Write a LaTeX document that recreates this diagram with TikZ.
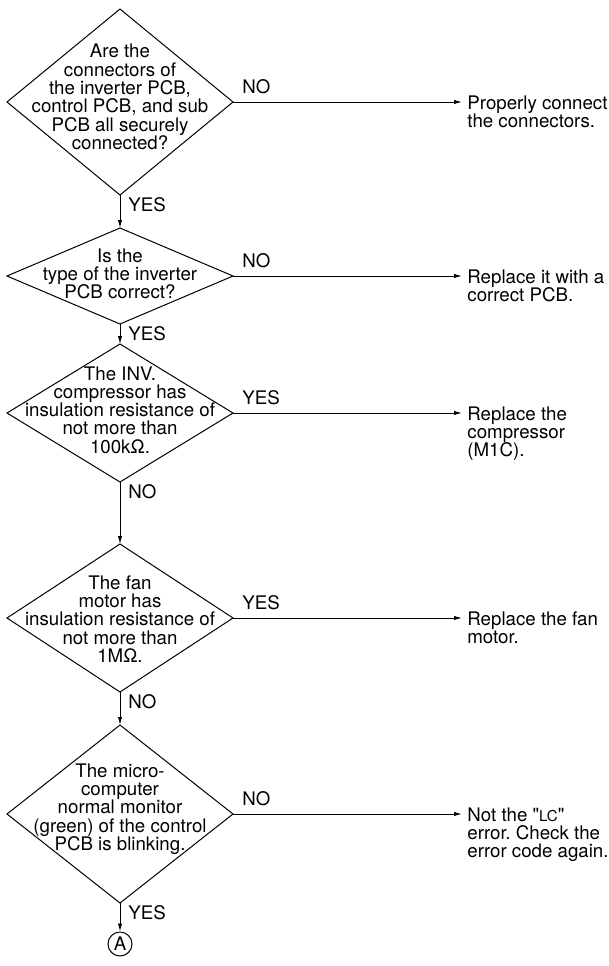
\documentclass[tikz,border=0pt]{standalone}
\usepackage{fontspec}
\setmainfont{TeX Gyre Heros}
\frenchspacing
\usetikzlibrary{positioning, shapes.geometric, arrows.meta}
\tikzset{
	decision/.style={diamond, draw, line width=0.5pt, minimum width=113pt, inner sep=0pt, outer sep=0pt}
}
\tikzset{
	flowtext/.style={font=\fontsize{9.35}{9.15}\selectfont, inner sep=0pt, align=center}
}
\tikzset{
	actiontext/.style={font=\fontsize{9.35}{9.15}\selectfont, inner xsep=2.5pt, inner ysep=0pt, align=left, anchor=north west}
}
\tikzset{
	flowarrow/.style={line width=0.5pt, -{Latex[length=4pt,width=2.2pt]}}
}
\newcommand{\errLC}{\textquotedbl{\fontsize{7.5}{7.5}\selectfont LC}\textquotedbl}

\begin{document}
\begin{tikzpicture}[x=0.5pt, y=-0.5pt]
      \useasboundingbox (0,0) rectangle (609,966);
      % decision boxes
      \foreach \n/\y/\h in {1/102/93pt, 2/276/48pt, 3/413/69pt, 4/618/74pt, 5/814/89pt}
        \node[decision, minimum height=\h] (d\n) at (120,\y) {};
      \node[flowtext] (q1) at (120,97) {Are the\\connectors of\\the inverter PCB,\\control PCB, and sub\\PCB all securely\\connected?};
      \node[flowtext] (q2) at (120,274) {Is the\\type of the inverter\\PCB correct?};
      \node[flowtext] (q3) at (120,410) {The INV.\\compressor has\\insulation resistance of\\not more than\\100kΩ.};
      \node[flowtext] (q4) at (120,619) {The fan\\motor has\\insulation resistance of\\not more than\\1MΩ.};
      \node[flowtext] (q5) at (120,809) {The micro-\\computer\\normal monitor\\(green) of the control\\PCB is blinking.};
      \node[flowtext, circle, draw, line width=0.5pt, minimum size=12pt] (A) at (120,944) {A};
      % actions
      \node[actiontext] (r1) at (462,95) {Properly connect\\the connectors.};
      \node[actiontext] (r2) at (462,269) {Replace it with a\\correct PCB.};
      \node[actiontext] (r3) at (462,406) {Replace the\\compressor\\(M1C).};
      \node[actiontext] (r4) at (462,611) {Replace the fan\\motor.};
      \node[actiontext] (r5) at (462,807) {Not the \errLC\\error. Check the\\error code again.};
      \foreach \n in {1,...,5}
        \draw[flowarrow] (d\n.east) -- (d\n.east -| r\n.west);
      \foreach \a/\b in {1/2, 2/3, 3/4, 4/5}
        \draw[flowarrow] (d\a.south) -- (d\b.north);
      \draw[flowarrow] (d5.south) -- (A);
      % branch labels
      \foreach \n/\l in {1/NO, 2/NO, 3/YES, 4/YES, 5/NO}
        \node[flowtext, above right=3.75pt and 4.5pt of d\n.east] (side\n) {\l};
      \foreach \n/\l in {1/YES, 2/YES, 3/NO, 4/NO, 5/YES}
        \node[flowtext, below right=1.25pt and 4pt of d\n.south] (down\n) {\l};
    \end{tikzpicture}
\end{document}
